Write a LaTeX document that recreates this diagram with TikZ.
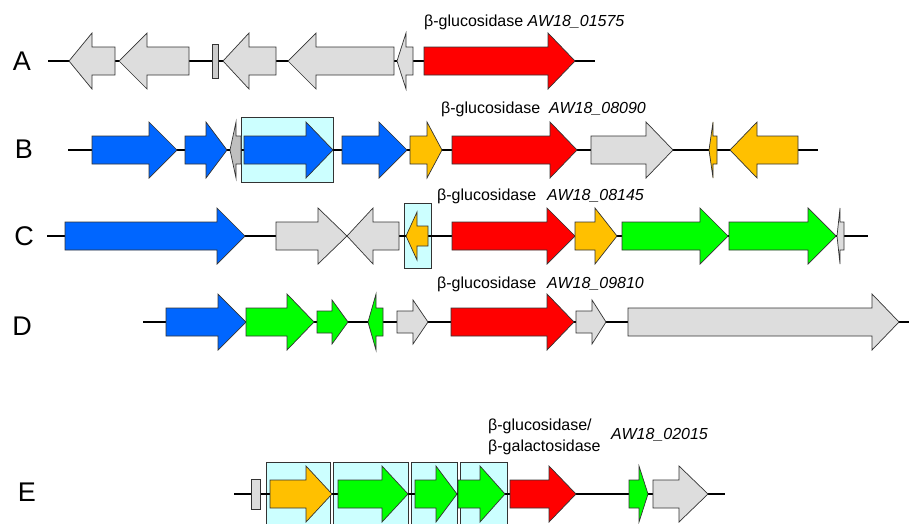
\documentclass[tikz,border=0pt]{standalone}
\usepackage{fontspec}
\setmainfont{Liberation Sans}
\definecolor{gfill}{HTML}{DDDDDD}
\definecolor{gdark}{HTML}{BFBFBF}
\definecolor{gblue}{HTML}{0066FF}
\definecolor{ggreen}{HTML}{00FF00}
\definecolor{gorange}{HTML}{FFC000}
\definecolor{gred}{HTML}{FF0000}
\definecolor{hlcyan}{HTML}{CCFFFF}
\definecolor{outl}{HTML}{333333}
% right-pointing gene: left, head base, tip, y, colour, body half height, head half height
\newcommand\RG[7]{\filldraw[gene,fill=#5] (#1,#4-#6) -- (#2,#4-#6) -- (#2,#4-#7) -- (#3,#4) -- (#2,#4+#7) -- (#2,#4+#6) -- (#1,#4+#6) -- cycle;}
% left-pointing gene: tip, head base, right, y, colour, body half height, head half height
\newcommand\LG[7]{\filldraw[gene,fill=#5] (#3,#4-#6) -- (#2,#4-#6) -- (#2,#4-#7) -- (#1,#4) -- (#2,#4+#7) -- (#2,#4+#6) -- (#3,#4+#6) -- cycle;}
\begin{document}
\begin{tikzpicture}[x=1pt,y=-1pt,
  gene/.style={draw=outl,line width=0.7pt,line join=miter},
  backbone/.style={line width=1.8pt,black},
  hlbox/.style={fill=hlcyan,draw=outl,line width=0.8pt},
  lbl/.style={font=\fontsize{16}{21}\selectfont,inner sep=0pt,anchor=west},
  rowlbl/.style={font=\fontsize{27}{30}\selectfont,inner sep=0pt}]
\clip (0,0) rectangle (909,523);
% ---------- Row A ----------
\node[rowlbl] (la) at (22,61) {A};
\draw[backbone] (48,61) -- (595,61);
\LG{69}{92}{115}{61}{gfill}{14}{28}
\LG{119}{147}{189}{61}{gfill}{14}{28}
\filldraw[gene,fill=gdark!80!white] (212,44) rectangle (218,78);
\LG{223}{249}{276}{61}{gfill}{14}{28}
\LG{288}{316}{394}{61}{gfill}{14}{28}
\LG{397}{406}{413}{61}{gfill}{14}{28}
\RG{424}{548}{575}{61}{gred}{14}{28}
\node[lbl] (ta) at (424,22) {β-glucosidase \textit{AW18\_01575}};
% ---------- Row B ----------
\node[rowlbl] (lb) at (24,149) {B};
\filldraw[hlbox] (241,117) rectangle (333,182);
\draw[backbone] (68,150) -- (818,150);
\RG{92}{149}{177}{150}{gblue}{14}{28}
\RG{185}{206}{227}{150}{gblue}{14}{28}
\LG{230}{236}{241}{150}{gdark}{14}{28}
\RG{244}{306}{333}{150}{gblue}{14}{28}
\RG{342}{379}{407}{150}{gblue}{14}{28}
\RG{410}{427}{442}{150}{gorange}{14}{28}
\RG{452}{550}{577}{150}{gred}{14}{28}
\RG{591}{646}{673}{150}{gfill}{14}{28}
\LG{709}{713}{717}{150}{gorange}{14}{28}
\LG{730}{757}{798}{150}{gorange}{14}{28}
\node[lbl] (tb1) at (441,109) {β-glucosidase};
\node[lbl] (tb2) at (549,109) {\textit{AW18\_08090}};
% ---------- Row C ----------
\node[rowlbl] (lc) at (24,236) {C};
\filldraw[hlbox] (404,203) rectangle (431,268);
\draw[backbone] (47,236) -- (868,236);
\RG{65}{217}{245}{236}{gblue}{14}{28}
\RG{276}{318}{347}{236}{gfill}{14}{28}
\LG{347}{373}{399}{236}{gfill}{14}{28}
\LG{406}{417}{428}{236}{gorange}{10}{24}
\RG{452}{547}{575}{236}{gred}{14}{28}
\RG{575}{595}{617}{236}{gorange}{14}{28}
\RG{622}{700}{728}{236}{ggreen}{14}{28}
\RG{729}{808}{836}{236}{ggreen}{14}{28}
\LG{837}{840}{844}{236}{gfill}{14}{28}
\node[lbl] (tc1) at (437,196) {β-glucosidase};
\node[lbl] (tc2) at (547,196) {\textit{AW18\_08145}};
% ---------- Row D ----------
\node[rowlbl] (ld) at (22,326) {D};
\draw[backbone] (143,322) -- (909,322);
\RG{166}{218}{246}{322}{gblue}{14}{28}
\RG{246}{287}{314}{322}{ggreen}{14}{28}
\RG{317}{332}{348}{322}{ggreen}{11}{22}
\LG{368}{376}{383}{322}{ggreen}{14}{28}
\RG{397}{413}{428}{322}{gfill}{11}{22}
\RG{451}{547}{574}{322}{gred}{14}{28}
\RG{576}{592}{606}{322}{gfill}{11}{22}
\RG{628}{872}{899}{322}{gfill}{14}{28}
\node[lbl] (td1) at (437,284) {β-glucosidase};
\node[lbl] (td2) at (547,284) {\textit{AW18\_09810}};
% ---------- Row E ----------
\node[rowlbl] (le) at (27,492) {E};
\filldraw[hlbox] (266,462) rectangle (330,530);
\filldraw[hlbox] (333,462) rectangle (408,530);
\filldraw[hlbox] (411,462) rectangle (457,530);
\filldraw[hlbox] (460,462) rectangle (507,530);
\draw[backbone] (234,494) -- (725,494);
\filldraw[gene,fill=gfill] (251,479) rectangle (260,509);
\RG{270}{306}{332}{494}{gorange}{14}{28}
\RG{338}{382}{408}{494}{ggreen}{14}{28}
\RG{415}{436}{457}{494}{ggreen}{14}{28}
\RG{458}{480}{505}{494}{ggreen}{14}{28}
\RG{510}{549}{576}{494}{gred}{14}{28}
\RG{629}{639}{648}{494}{ggreen}{14}{28}
\RG{653}{679}{708}{494}{gfill}{14}{28}
\node[lbl,align=left] (te1) at (488,437) {β-glucosidase/\\β-galactosidase};
\node[lbl] (te2) at (611,435) {\textit{AW18\_02015}};
\end{tikzpicture}
\end{document}
